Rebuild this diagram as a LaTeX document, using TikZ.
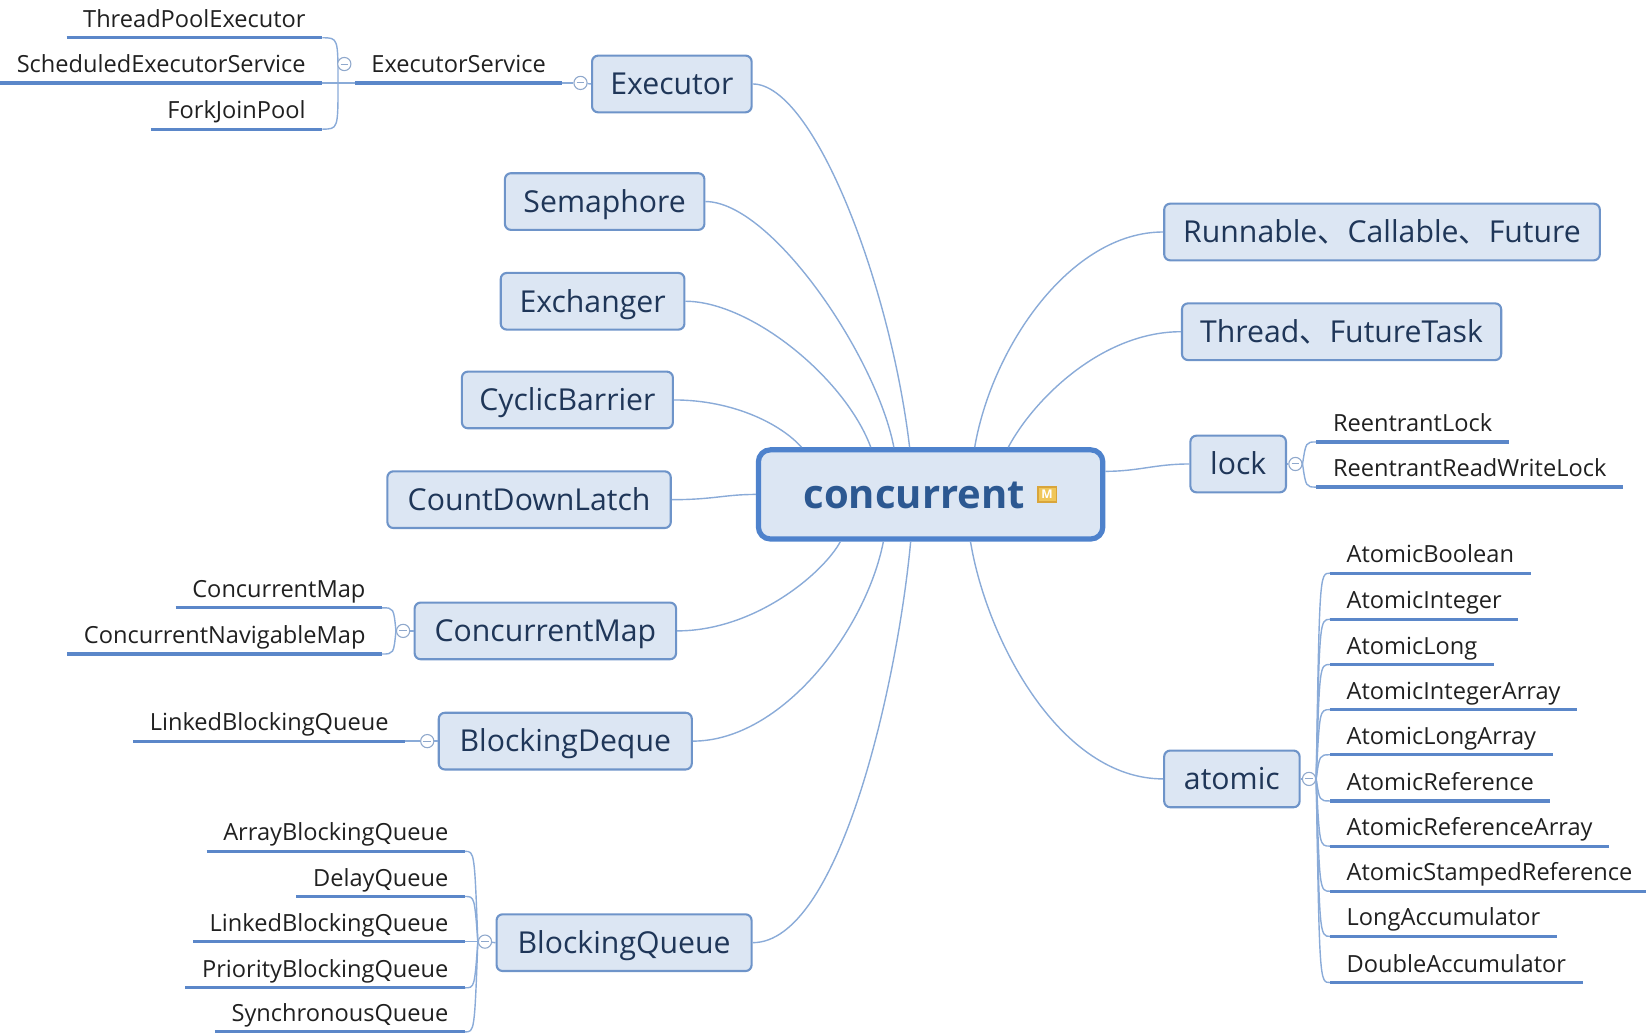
\documentclass[tikz,border=0pt]{standalone}
\usepackage{fontspec}
\setmainfont{Open Sans}
\newfontfamily\cjkf{Noto Sans CJK SC}
\usetikzlibrary{calc}
\definecolor{boxfill}{HTML}{DCE6F3}
\definecolor{boxdraw}{HTML}{6E94C9}
\definecolor{boxtext}{HTML}{1F3658}
\definecolor{rootdraw}{HTML}{4E82CC}
\definecolor{roottext}{HTML}{2C5891}
\definecolor{conncol}{HTML}{8AABD8}
\definecolor{ulcol}{HTML}{5B87C9}
\definecolor{leaftext}{HTML}{202020}
\definecolor{iconfill}{HTML}{F0C659}
\definecolor{icondraw}{HTML}{D9A53A}
\definecolor{knobdraw}{HTML}{8FA8CC}
\begin{document}
\begin{tikzpicture}[x=0.52487pt, y=-0.52487pt,
  box/.style={draw=boxdraw, fill=boxfill, line width=1.05pt, rounded corners=3pt,
    minimum height=28.34pt, inner sep=0pt, text=boxtext,
    font=\fontsize{15.1}{17}\selectfont, text height=13.2pt, text depth=2.4pt},
  leaf/.style={inner xsep=8.13pt, inner ysep=0pt, text=leaftext,
    font=\fontsize{11.8}{13}\selectfont, text height=9pt, text depth=5.0pt},
  lleaf/.style={leaf, anchor=south east},
  rleaf/.style={leaf, anchor=south west},
  ul/.style={draw=ulcol, line width=1.6pt},
  conn/.style={draw=conncol, line width=0.7pt},
  knob/.style={circle, draw=knobdraw, fill=white, line width=0.55pt,
    minimum size=6.6pt, inner sep=0pt,
    path picture={\draw[knobdraw, line width=0.5pt]
      ([xshift=-1.9pt]path picture bounding box.center) --
      ([xshift=1.9pt]path picture bounding box.center);}}
]
\useasboundingbox (0,0) rectangle (1568,984);
\clip (0,0) rectangle (1568,984);

% central topic
\node[draw=rootdraw, fill=boxfill, line width=2.6pt, rounded corners=6pt,
  minimum width=172.2pt, minimum height=44.6pt, inner sep=0pt, text=roottext,
  font=\bfseries\fontsize{20}{22}\selectfont, text height=17pt, text depth=3pt]
  (root) at (886.5,471) {concurrent\kern16.3pt};
\node[fill=iconfill, draw=icondraw, line width=0.7pt, minimum width=9.2pt,
  minimum height=7.4pt, inner sep=0pt, text=white,
  font=\bfseries\fontsize{6}{6}\selectfont] (icon) at (997.5,471) {M};

% main topics
\node[box, minimum width=79.78pt] (exe) at (640,80) {Executor};
\node[box, minimum width=99.73pt] (sem) at (576,192) {Semaphore};
\node[box, minimum width=91.85pt] (exch) at (564.5,287) {Exchanger};
\node[box, minimum width=105.5pt] (cyc) at (540.5,381) {CyclicBarrier};
\node[box, minimum width=141.7pt] (cdl) at (504,476) {CountDownLatch};
\node[box, minimum width=130.7pt] (cmap) at (519.5,601) {ConcurrentMap};
\node[box, minimum width=126.5pt] (bdq) at (538.5,706) {BlockingDeque};
\node[box, minimum width=127.5pt] (bq) at (594.5,898) {BlockingQueue};
\node[box, minimum width=217.8pt] (run) at (1316.5,221) {Runnable{\cjkf 、}Callable{\cjkf 、}Future};
\node[box, minimum width=159.6pt] (thr) at (1278,316) {Thread{\cjkf 、}FutureTask};
\node[box, minimum width=47.76pt] (lock) at (1179.5,442) {lock};
\node[box, minimum width=67.7pt] (atom) at (1173.5,742) {atomic};

% connectors centre -> topics
\draw[conn] (exe.east) .. controls (775,80) and (848,270) .. ($(root.north)+(-20,0)$);
\draw[conn] (sem.east) .. controls (735,192) and (835,340) .. ($(root.north)+(-35,0)$);
\draw[conn] (exch.east) .. controls (715,287) and (805,360) .. ($(root.north)+(-57,0)$);
\draw[conn] (cyc.east) .. controls (700,381) and (745,405) .. ($(root.north)+(-123,0)$);
\draw[conn] (cdl.east) .. controls (680,476) and (690,471) .. (root.west);
\draw[conn] (cmap.east) .. controls (720,601) and (785,545) .. ($(root.south)+(-86,0)$);
\draw[conn] (bdq.east) .. controls (745,706) and (825,600) .. ($(root.south)+(-45,0)$);
\draw[conn] (bq.east) .. controls (800,898) and (855,650) .. ($(root.south)+(-19,0)$);
\draw[conn] (run.west) .. controls (1020,221) and (945,330) .. ($(root.north)+(42,0)$);
\draw[conn] (thr.west) .. controls (1050,316) and (985,380) .. ($(root.north)+(74,0)$);
\draw[conn] (lock.west) .. controls (1100,442) and (1085,449) .. ($(root.east)+(0,-22)$);
\draw[conn] (atom.west) .. controls (1010,742) and (940,610) .. ($(root.south)+(38,0)$);

% Executor subtree
\node[lleaf] (tpe) at (307,36) {ThreadPoolExecutor};
\node[lleaf] (ses) at (307,79) {ScheduledExecutorService};
\node[lleaf] (fjp) at (307,123) {ForkJoinPool};
\node[rleaf] (es) at (338,79) {ExecutorService};
\coordinate (j1) at (322,79);
\draw[conn] (j1) .. controls (322,36) .. (tpe.south east);
\draw[conn] (j1) .. controls (322,123) .. (fjp.south east);
\draw[conn] (ses.south east) -- (es.south west);
\node[knob] (k2) at (328,61) {};
\node[knob] (k1) at (553,79) {};
\draw[conn] (es.south east) -- (k1);
\draw[conn] (k1) -- (exe.west);

% ConcurrentMap subtree
\node[lleaf] (cm1) at (364,579) {ConcurrentMap};
\node[lleaf] (cm2) at (364,623) {ConcurrentNavigableMap};
\node[knob] (k3) at (384,601) {};
\draw[conn] (k3) -- (cmap.west);
\draw[conn] (k3.west) .. controls (375,579) .. (cm1.south east);
\draw[conn] (k3.west) .. controls (375,623) .. (cm2.south east);

% BlockingDeque subtree
\node[lleaf] (lbq1) at (386,706) {LinkedBlockingQueue};
\node[knob] (k4) at (407,706) {};
\draw[conn] (lbq1.south east) -- (k4);
\draw[conn] (k4) -- (bdq.west);

% BlockingQueue subtree
\node[lleaf] (abq) at (443,811) {ArrayBlockingQueue};
\node[lleaf] (dq) at (443,854) {DelayQueue};
\node[lleaf] (lbq2) at (443,897) {LinkedBlockingQueue};
\node[lleaf] (pbq) at (443,941) {PriorityBlockingQueue};
\node[lleaf] (sq) at (443,983) {SynchronousQueue};
\node[knob] (k5) at (462,897) {};
\draw[conn] (k5) -- (bq.west);
\draw[conn] (k5.west) -- (lbq2.south east);
\foreach \n/\yy in {abq/811, dq/854, pbq/941, sq/983}
  \draw[conn] (k5.west) .. controls (452,\yy) .. (\n.south east);

% lock subtree
\node[rleaf] (rl) at (1254,421) {ReentrantLock};
\node[rleaf] (rrwl) at (1254,464) {ReentrantReadWriteLock};
\node[knob] (k6) at (1234,442) {};
\draw[conn] (lock.east) -- (k6);
\draw[conn] (k6.east) .. controls (1244,421) .. (rl.south west);
\draw[conn] (k6.east) .. controls (1244,464) .. (rrwl.south west);

% atomic subtree
\node[knob] (k7) at (1247,742) {};
\draw[conn] (atom.east) -- (k7);
\foreach \n/\yy/\t in {a1/546/AtomicBoolean, a2/590/AtomicInteger, a3/633/AtomicLong,
  a4/676/AtomicIntegerArray, a5/719/AtomicLongArray, a6/763/AtomicReference,
  a7/806/AtomicReferenceArray, a8/849/AtomicStampedReference,
  a9/892/LongAccumulator, a10/936/DoubleAccumulator}{
  \node[rleaf] (\n) at (1267,\yy) {\t};
  \draw[conn] (k7.east) .. controls (1257,\yy) .. (\n.south west);
}

% underlines
\foreach \n in {tpe,ses,fjp,es,cm1,cm2,lbq1,abq,dq,lbq2,pbq,sq,rl,rrwl,a1,a2,a3,a4,a5,a6,a7,a8,a9,a10}
  \draw[ul] (\n.south west) -- (\n.south east);
\end{tikzpicture}
\end{document}
